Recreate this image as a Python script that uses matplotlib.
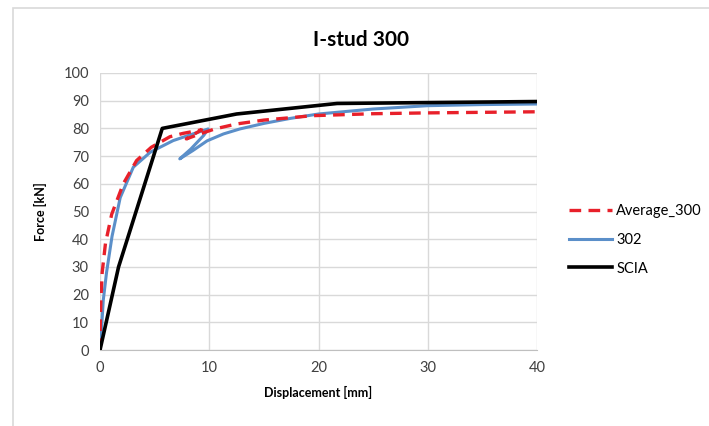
import numpy as np
import matplotlib.pyplot as plt
from matplotlib.patches import Rectangle

plt.rcParams['font.family'] = ['Lato', 'DejaVu Sans']

# Average_300 (red dashed)
avg_x = [0.0, 0.02, 0.08, 0.2, 0.5, 1.07, 2.13, 3.35, 4.7, 6.4, 7.6, 9.3,
         7.9, 9.0, 10.5, 12.5, 15.0, 19.5, 25.0, 30.0, 35.0, 40.0]
avg_y = [0.0, 8.0, 18.0, 28.0, 38.5, 49.0, 60.0, 68.4, 73.2, 77.0, 78.2, 79.5,
         76.2, 77.8, 79.8, 81.6, 83.0, 84.6, 85.3, 85.6, 85.8, 86.0]

# specimen 302 (blue)
s302_x = [0.0, 0.1, 0.3, 0.6, 1.1, 1.85, 3.05, 4.6, 6.7, 8.5, 9.9,
          9.5, 8.3, 7.3, 8.5, 9.8, 11.3, 12.8, 15.0, 17.4, 20.0, 25.0, 30.0, 35.0, 40.0]
s302_y = [0.0, 5.0, 18.0, 28.0, 41.0, 55.0, 66.0, 71.4, 75.6, 78.0, 79.8,
          77.5, 72.5, 69.0, 72.0, 75.5, 78.0, 79.8, 81.8, 83.6, 85.2, 87.0, 88.2, 88.6, 88.8]

# SCIA (black)
scia_x = [0.0, 1.7, 5.7, 12.5, 21.7, 40.0]
scia_y = [0.0, 30.0, 80.0, 85.2, 89.0, 89.7]

fig = plt.figure(figsize=(7.09, 4.26), dpi=100)
ax = fig.add_axes([100/709, 1-350/426, 437/709, 277/426])

# faint chart-area border like the spreadsheet export
fig.patches.append(Rectangle((13/709, -0.1), 1.0, 1.1 - 8/426, transform=fig.transFigure,
                             fill=False, edgecolor='#d9d9d9', linewidth=1.2))

ax.plot(avg_x, avg_y, color='#e8202a', linewidth=2.4, dashes=(3.5, 2.2), label='Average_300', zorder=3)
ax.plot(s302_x, s302_y, color='#5b8fc9', linewidth=2.2, label='302', zorder=2)
ax.plot(scia_x, scia_y, color='black', linewidth=2.6, label='SCIA', zorder=4)

ax.set_xlim(0, 40)
ax.set_ylim(0, 100)
ax.set_xticks(np.arange(0, 41, 10))
ax.set_yticks(np.arange(0, 101, 10))
ax.grid(True, color='#d9d9d9', linewidth=1.0)
ax.set_axisbelow(True)
for side in ['top', 'right', 'left']:
    ax.spines[side].set_visible(False)
ax.spines['bottom'].set_color('#bfbfbf')
ax.tick_params(length=0, labelsize=10.5, colors='#404040', pad=8)

ax.set_xlabel('Displacement [mm]', fontsize=9, fontweight='bold', labelpad=8)
ax.set_ylabel('Force [kN]', fontsize=9, fontweight='bold', labelpad=12)
fig.text(361/709, 1-40/426, 'I-stud 300', ha='center', va='center', fontsize=15, fontweight='bold')

fig.legend(loc='center left', bbox_to_anchor=(569/709, 1-240/426), frameon=False,
           fontsize=10.5, handlelength=2.95, labelspacing=1.0, handletextpad=0.3,
           borderpad=0, borderaxespad=0)

fig.savefig('out.png', dpi=100)
